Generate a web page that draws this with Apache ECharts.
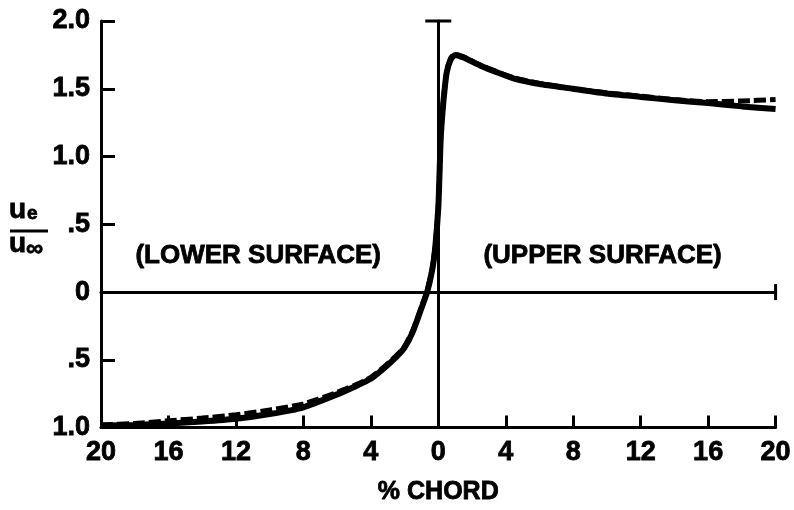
<!DOCTYPE html>
<html>
<head>
<meta charset="utf-8">
<script src="https://cdn.jsdelivr.net/npm/echarts@6/dist/echarts.min.js"></script>
<style>
  html, body { margin: 0; padding: 0; background: #fff; }
  #chart { width: 794px; height: 510px; }
</style>
</head>
<body>
<div id="chart"></div>
<script>
// % chord, negative = lower surface, positive = upper surface
var chordPct = [-20, -18, -16, -14, -12, -10, -8, -6, -5, -4, -3.2, -2.5, -2, -1.5, -1.0, -0.66, -0.35, -0.18, 0, 0.08, 0.15, 0.3, 0.5, 0.75, 1.0, 1.5, 2.5, 3.5, 4.5, 6, 8, 10, 12, 14, 16, 18, 20];
// ue / u-infinity, solid curve
var solidVel = [-0.985, -0.98, -0.97, -0.955, -0.935, -0.9, -0.85, -0.755, -0.70, -0.64, -0.56, -0.48, -0.41, -0.29, -0.12, 0, 0.17, 0.33, 0.62, 0.9, 1.15, 1.40, 1.62, 1.72, 1.75, 1.73, 1.67, 1.62, 1.575, 1.535, 1.50, 1.465, 1.44, 1.415, 1.395, 1.37, 1.35];
// dashed curve
var dashedVel = [-0.98, -0.97, -0.95, -0.93, -0.905, -0.87, -0.825, -0.74, -0.69, -0.63, -0.55, -0.47, -0.40, -0.28, -0.11, 0.01, 0.18, 0.34, 0.63, 0.91, 1.16, 1.41, 1.63, 1.73, 1.755, 1.735, 1.675, 1.625, 1.58, 1.54, 1.50, 1.47, 1.445, 1.42, 1.405, 1.41, 1.42];
var yTicks = { '2': '2.0', '1.5': '1.5', '1': '1.0', '0.5': '.5', '0': '0', '-0.5': '.5', '-1': '1.0' };

var FONT = '"Liberation Sans", Arial, sans-serif';

function pairs(xs, ys) {
    return xs.map(function (x, i) { return [x, ys[i]]; });
}

var chart = echarts.init(document.getElementById('chart'));

var option = {
    backgroundColor: '#fff',
    animation: false,
    grid: { left: 101, right: 14, top: 21, bottom: 78 },
    xAxis: [
        {
            type: 'value',
            min: -20, max: 20, interval: 4,
            position: 'bottom',
            name: '% CHORD',
            nameLocation: 'middle',
            nameGap: 52,
            nameTextStyle: {
                color: '#000', fontSize: 25, fontWeight: 'bold', fontFamily: FONT,
                textBorderColor: '#000', textBorderWidth: 0.8
            },
            axisLine: { onZero: false, lineStyle: { color: '#000', width: 3 } },
            axisTick: { inside: true, length: 12, lineStyle: { color: '#000', width: 3 } },
            axisLabel: {
                color: '#000', fontSize: 27, fontWeight: 'bold', fontFamily: FONT, margin: 11,
                textBorderColor: '#000', textBorderWidth: 0.8,
                formatter: function (v) { return String(Math.abs(v)); }
            },
            splitLine: { show: false }
        },
        {
            // zero line across the middle
            type: 'value',
            min: -20, max: 20,
            axisLine: {
                onZero: true, onZeroAxisIndex: 0,
                symbol: ['none', 'rect'], symbolSize: [16, 3],
                lineStyle: { color: '#000', width: 3 }
            },
            axisTick: { show: false },
            axisLabel: { show: false },
            splitLine: { show: false }
        }
    ],
    yAxis: [
        {
            type: 'value',
            min: -1, max: 2, interval: 0.5,
            position: 'left',
            axisLine: { onZero: false, lineStyle: { color: '#000', width: 3 } },
            axisTick: { inside: true, length: 14, lineStyle: { color: '#000', width: 3 } },
            axisLabel: {
                color: '#000', fontSize: 27, fontWeight: 'bold', fontFamily: FONT, margin: 11,
                textBorderColor: '#000', textBorderWidth: 0.8,
                formatter: function (v) { return yTicks[String(v)]; }
            },
            splitLine: { show: false }
        },
        {
            // leading-edge line at 0 % chord
            type: 'value',
            min: -1, max: 2,
            axisLine: {
                onZero: true, onZeroAxisIndex: 0,
                symbol: ['none', 'rect'], symbolSize: [26, 3],
                lineStyle: { color: '#000', width: 3 }
            },
            axisTick: { show: false },
            axisLabel: { show: false },
            splitLine: { show: false }
        }
    ],
    graphic: [
        { type: 'text', left: 135, top: 242, style: { text: '(LOWER SURFACE)', fill: '#000', font: 'bold 26px ' + FONT, stroke: '#000', lineWidth: 0.8 } },
        { type: 'text', left: 483, top: 242, style: { text: '(UPPER SURFACE)', fill: '#000', font: 'bold 26px ' + FONT, stroke: '#000', lineWidth: 0.8 } },
        // ue / u-inf fraction
        { type: 'text', x: 9, y: 210, style: { text: 'u', fill: '#000', font: 'bold 28px ' + FONT, stroke: '#000', lineWidth: 0.8, textVerticalAlign: 'middle' } },
        { type: 'text', x: 27, y: 214, style: { text: 'e', fill: '#000', font: 'bold 19px ' + FONT, stroke: '#000', lineWidth: 0.8, textVerticalAlign: 'middle' } },
        { type: 'line', shape: { x1: 10, y1: 231, x2: 48, y2: 231 }, style: { stroke: '#000', lineWidth: 3 } },
        { type: 'text', x: 9, y: 244, style: { text: 'u', fill: '#000', font: 'bold 28px ' + FONT, stroke: '#000', lineWidth: 0.8, textVerticalAlign: 'middle' } },
        { type: 'text', x: 26, y: 249, style: { text: '\u221e', fill: '#000', font: 'bold 24px ' + FONT, stroke: '#000', lineWidth: 0.8, textVerticalAlign: 'middle' } }
    ],
    series: [
        {
            name: 'solid',
            type: 'line',
            xAxisIndex: 0, yAxisIndex: 0,
            data: pairs(chordPct, solidVel),
            showSymbol: false,
            smooth: 0.2,
            lineStyle: { color: '#000', width: 6 }
        },
        {
            name: 'dashed',
            type: 'line',
            xAxisIndex: 0, yAxisIndex: 0,
            data: pairs(chordPct, dashedVel),
            showSymbol: false,
            smooth: 0.2,
            lineStyle: { color: '#000', width: 5, type: [12, 4] }
        }
    ]
};

chart.setOption(option);
</script>
</body>
</html>
